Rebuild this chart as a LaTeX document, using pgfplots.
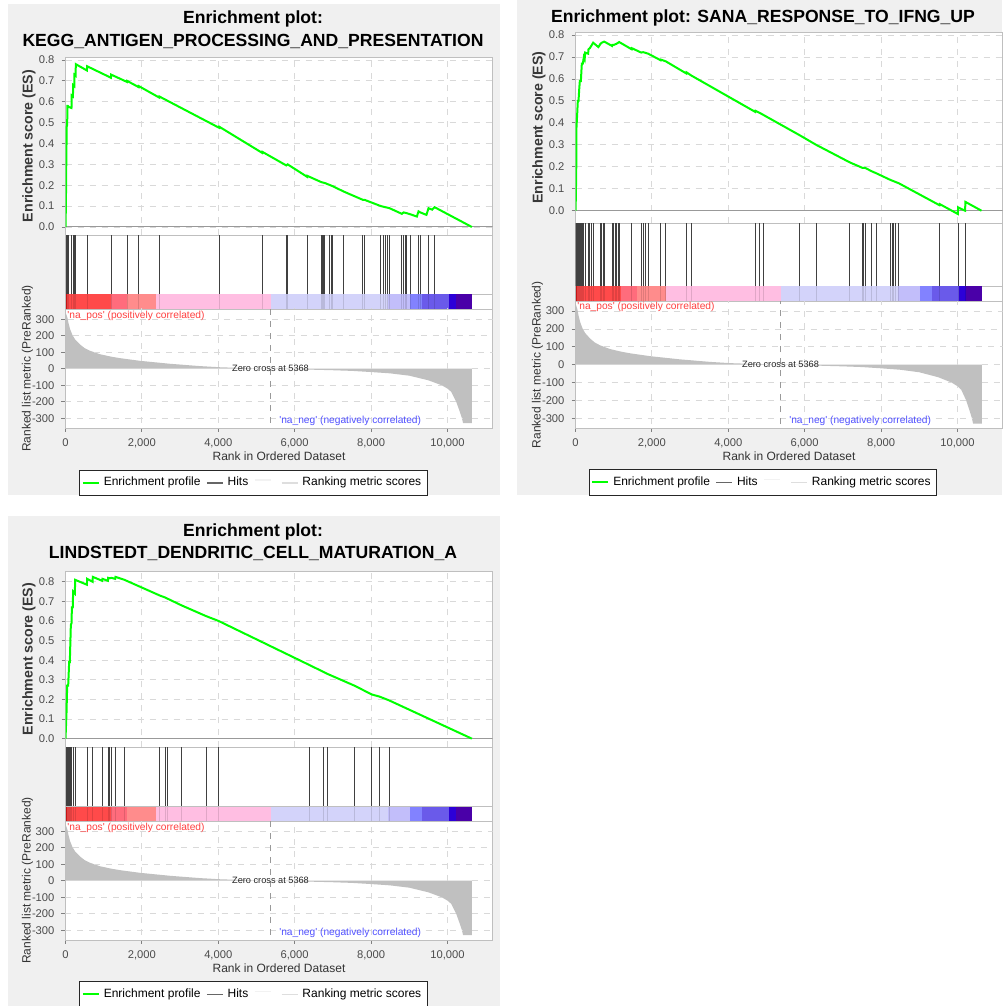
\documentclass[border=0pt]{standalone}
\usepackage{fontspec}
\setmainfont{Liberation Sans}
\newfontfamily\rawsans{Liberation Sans}
\usepackage{pgfplots}
\pgfplotsset{compat=1.18}
\usepackage{pgfplotstable}

\definecolor{esgreen}{HTML}{00FF00}
\definecolor{napos}{HTML}{FF4040}
\definecolor{naneg}{HTML}{5050FF}
\definecolor{cbA}{HTML}{B00000}
\definecolor{cbB}{HTML}{E01818}
\definecolor{cbC}{HTML}{FF4A4A}
\definecolor{cbD}{HTML}{FF6C7C}
\definecolor{cbE}{HTML}{FF8C8C}
\definecolor{cbF}{HTML}{FFBEE2}
\definecolor{cbG}{HTML}{D3D3FA}
\definecolor{cbH}{HTML}{C2BEFA}
\definecolor{cbI}{HTML}{8282FF}
\definecolor{cbJ}{HTML}{6A5AEA}
\definecolor{cbK}{HTML}{2C00D8}
\definecolor{cbL}{HTML}{4A00A8}
\definecolor{metgray}{HTML}{C0C0C0}

\newcommand\titlefont{\fontsize{8.8}{10}\selectfont\bfseries}
\newcommand\labfont{\fontsize{6}{7}\selectfont}

% ranked list metric (shared by the three plots)
\pgfplotstableread{
rank val
0 340
20 330
50 310
80 275
120 240
180 205
250 178
380 147
500 125
640 109
900 88
1200 73
1430 64
1950 48
2740 30
3520 16
4045 9
4700 4
5368 0
6000 -3
6500 -6
7000 -9
7500 -13
8000 -20
8500 -28
9000 -42
9500 -70
9850 -100
10000 -120
10100 -140
10230 -200
10300 -245
10380 -300
10410 -330
10640 -330
}\metric

\pgfplotstableread{
rank h
26 1
44 1
61 1
87 1
157 1
200 1
235 1
270 1
567 1
1195 1
1613 1
1918 1
2459 1
4029 1
5154 1
5781 1
5816 1
6331 1
6697 1
6723 1
6758 1
6784 1
6915 1
6958 1
7002 1
7281 1
7787 1
7831 1
8258 1
8328 1
8389 1
8441 1
8485 1
8807 1
8851 1
8894 1
8938 1
9043 1
9243 1
9287 1
9505 1
9662 1
}\hitsA

\pgfplotstableread{
rank h
9 1
26 1
44 1
61 1
79 1
96 1
113 1
140 1
166 1
192 1
218 1
253 1
340 1
375 1
428 1
462 1
654 1
689 1
724 1
750 1
969 1
1003 1
1038 1
1073 1
1117 1
1143 1
1475 1
1728 1
1771 1
1841 1
1902 1
2234 1
2365 1
2906 1
3037 1
4712 1
4826 1
4930 1
5855 1
6300 1
7181 1
7513 1
7548 1
7583 1
7749 1
7880 1
8246 1
8290 1
8333 1
8386 1
8464 1
9537 1
10017 1
10209 1
}\hitsB

\pgfplotstableread{
rank h
26 1
44 1
70 1
96 1
113 1
140 1
166 1
200 1
253 1
567 1
715 1
968 1
1116 1
1160 1
1203 1
1308 1
1543 1
2468 1
2607 1
2660 1
3035 1
3680 1
4011 1
6392 1
6758 1
6862 1
7569 1
8023 1
8215 1
8476 1
}\hitsC

\pgfplotstableread{
rank es
0 0
5 0.05
10 0.10
15 0.20
20 0.30
26 0.39
30 0.48
44 0.49
50 0.58
61 0.58
87 0.575
157 0.57
160 0.63
195 0.625
200 0.68
230 0.675
235 0.73
265 0.725
270 0.78
560 0.75
567 0.77
1190 0.715
1195 0.73
1610 0.695
1613 0.70
1915 0.67
1918 0.675
2455 0.62
2459 0.625
4025 0.475
4029 0.48
5150 0.355
5154 0.36
5780 0.295
5816 0.30
6330 0.24
6331 0.245
6697 0.215
6800 0.21
7002 0.195
7281 0.17
7787 0.13
7831 0.13
8258 0.10
8485 0.09
8807 0.063
8851 0.07
8938 0.066
9043 0.06
9200 0.05
9243 0.075
9287 0.07
9450 0.058
9505 0.09
9600 0.083
9662 0.095
10640 0.0
}\esA

\pgfplotstableread{
rank es
0 0
9 0.06
20 0.20
26 0.38
44 0.44
61 0.50
79 0.50
96 0.55
113 0.59
140 0.59
166 0.67
192 0.67
218 0.70
240 0.69
253 0.72
330 0.715
340 0.735
375 0.74
428 0.755
462 0.765
600 0.745
654 0.76
689 0.765
750 0.77
960 0.75
969 0.755
1003 0.755
1073 0.76
1143 0.768
1470 0.735
1475 0.74
1720 0.72
1771 0.722
1902 0.715
2230 0.685
2234 0.688
2365 0.68
2900 0.625
2906 0.63
3037 0.615
4705 0.45
4712 0.455
4826 0.445
4930 0.435
5855 0.345
6300 0.30
7181 0.22
7513 0.195
7583 0.195
7749 0.18
7880 0.17
8246 0.14
8464 0.125
9530 0.025
9537 0.03
10010 -0.015
10017 0.015
10200 0.0
10209 0.04
10630 0.0
}\esB

\pgfplotstableread{
rank es
0 0
26 0.13
44 0.27
70 0.27
96 0.39
113 0.39
140 0.58
160 0.59
166 0.67
190 0.67
200 0.75
245 0.74
253 0.81
560 0.785
567 0.815
710 0.80
715 0.825
960 0.805
968 0.815
1110 0.805
1116 0.82
1160 0.818
1203 0.82
1300 0.815
1308 0.825
1543 0.81
2468 0.73
2607 0.72
2660 0.715
3035 0.68
3680 0.625
4011 0.60
6392 0.375
6758 0.34
6862 0.33
7569 0.27
8023 0.225
8215 0.215
8476 0.195
10640 0.0
}\esC

\pgfplotsset{
  gbase/.style={
    scale only axis, width=213.5pt, xmin=0, xmax=11180,
    anchor=south west,
    axis line style={draw=black!25},
    axis background/.style={fill=white},
    tick align=outside, major tick length=2pt, tick pos=left,
    tick style={draw=black!50, line width=0.4pt},
    ticklabel style={font=\fontsize{5.6}{6}\selectfont, text=black!70},
    /pgf/number format/assume math mode=true,
    /pgf/number format/1000 sep={,},
    grid style={dashed, black!15, line width=0.4pt},
    scaled ticks=false,
  },
  esax/.style={gbase,
    xtick={0,2000,4000,6000,8000,10000}, xticklabels={}, xtick style={draw=none},
    ytick={0,0.1,0.2,0.3,0.4,0.5,0.6,0.7,0.8}, grid=major,
    yticklabel style={/pgf/number format/.cd, fixed, fixed zerofill, precision=1},
    ylabel={Enrichment score (ES)},
    every axis y label/.style={at={(axis description cs:-0.0855,0.5)}, rotate=90, anchor=center,
      font=\fontsize{7.1}{8}\selectfont\bfseries, text=black!78},
  },
  hitax/.style={gbase, ymin=0, ymax=1, xtick=\empty, ytick=\empty},
  metax/.style={gbase,
    xtick={0,2000,4000,6000,8000,10000},
    ytick={-300,-200,-100,0,100,200,300}, grid=none,
    xlabel={Rank in Ordered Dataset},
    ylabel={Ranked list metric (PreRanked)},
    every axis y label/.style={at={(axis description cs:-0.089,0.5)}, rotate=90, anchor=center,
      font=\labfont, text=black!80},
    every axis x label/.style={at={(axis description cs:0.5,0)}, anchor=center, yshift=-14.25pt,
      font=\labfont, text=black!80},
    legend columns=4,
    legend image code/.code={\draw[##1] (0pt,0pt) -- (8pt,0pt);},
    legend style={anchor=center, draw=black!85, line width=0.5pt, fill=white,
      font=\labfont, inner xsep=1pt, inner ysep=1.5pt,
      /tikz/every even column/.append style={column sep=0.8pt},
      /tikz/every odd column/.append style={column sep=0pt}},
  },
  mgrid/.style={dashed, black!15, line width=0.4pt},
}

\newcommand\cbseg[3]{\addplot[fill=#3, draw=none] coordinates {(#1,1) (#2,1)} \closedcycle;}
\newcommand\colorbarplots{%
  \cbseg{0}{20}{cbA}
  \cbseg{20}{50}{cbB}
  \cbseg{50}{1180}{cbC}
  \cbseg{1180}{1600}{cbD}
  \cbseg{1600}{2370}{cbE}
  \cbseg{2370}{5368}{cbF}
  \cbseg{5368}{8455}{cbG}
  \cbseg{8455}{9013}{cbH}
  \cbseg{9013}{9337}{cbI}
  \cbseg{9337}{10034}{cbJ}
  \cbseg{10034}{10235}{cbK}
  \cbseg{10235}{10645}{cbL}
}
\newcommand\metricplots{%
  \addlegendimage{esgreen, line width=1pt}\addlegendentry{Enrichment profile}
  \addlegendimage{black!60, line width=0.75pt}\addlegendentry{Hits}
  \addlegendimage{black!5, line width=0.75pt, yshift=1.5pt}\addlegendentry{}
  \addlegendimage{black!13, line width=0.75pt}\addlegendentry{Ranking metric scores}
  \addplot[fill=metgray, draw=none] table[x=rank,y=val]{\metric} \closedcycle;
  % grid segments drawn after the fill, only outside the filled area
  \addplot[mgrid] coordinates {(60,300) (11180,300)};
  \addplot[mgrid] coordinates {(195,200) (11180,200)};
  \addplot[mgrid] coordinates {(751,100) (11180,100)};
  \addplot[mgrid] coordinates {(10640,0) (11180,0)};
  \addplot[mgrid] coordinates {(0,-100) (9850,-100)};
  \addplot[mgrid] coordinates {(10640,-100) (11180,-100)};
  \addplot[mgrid] coordinates {(0,-200) (10230,-200)};
  \addplot[mgrid] coordinates {(10640,-200) (11180,-200)};
  \addplot[mgrid] coordinates {(0,-300) (10380,-300)};
  \addplot[mgrid] coordinates {(10640,-300) (11180,-300)};
  \addplot[mgrid] coordinates {(2000,47) (2000,400)};
  \addplot[mgrid] coordinates {(2000,-400) (2000,0)};
  \addplot[mgrid] coordinates {(4000,10) (4000,400)};
  \addplot[mgrid] coordinates {(4000,-400) (4000,0)};
  \addplot[mgrid] coordinates {(6000,0) (6000,400)};
  \addplot[mgrid] coordinates {(6000,-400) (6000,-3)};
  \addplot[mgrid] coordinates {(8000,0) (8000,400)};
  \addplot[mgrid] coordinates {(8000,-400) (8000,-20)};
  \addplot[mgrid] coordinates {(10000,0) (10000,400)};
  \addplot[mgrid] coordinates {(10000,-400) (10000,-120)};
  \addplot[black!40, dashed, line width=0.4pt] coordinates {(5368,-400) (5368,400)};
  \node[font=\fontsize{4.6}{5}\selectfont, text=black!85] at (axis cs:5368,0) {Zero cross at 5368};
  \node[anchor=west, inner sep=0pt, font=\fontsize{5.1}{6}\rawsans, text=napos] at (axis cs:40,322) {'na\_pos' (positively correlated)};
  \node[anchor=west, inner sep=0pt, font=\fontsize{5.1}{6}\rawsans, text=naneg] at (axis cs:5589,-316) {'na\_neg' (negatively correlated)};
}

\begin{document}
\begin{tikzpicture}
\path[use as bounding box] (0,0) rectangle (502pt,503pt);
\fill[black!6] (4pt,255.35pt) rectangle (249.85pt,501pt);
\fill[black!6] (258.5pt,255.35pt) rectangle (501pt,503pt);
\fill[black!6] (4pt,0pt) rectangle (249.85pt,245pt);

% ---------- Panel 1 ----------
\node[anchor=base, font=\titlefont] at (126.5pt,491.35pt) {Enrichment plot:};
\node[anchor=base, font=\titlefont] at (126.5pt,479.85pt) {KEGG\_ANTIGEN\_PROCESSING\_AND\_PRESENTATION};
\begin{axis}[esax, at={(32.75pt,385.5pt)}, height=89pt, ymin=-0.0383, ymax=0.8144]
\addplot[black!40, line width=0.5pt] coordinates {(0,0) (11180,0)};
\addplot[esgreen, line width=1pt] table[x=rank,y=es]{\esA};
\end{axis}
\begin{axis}[hitax, at={(32.75pt,356pt)}, height=29.5pt]
\addplot[ycomb, no markers, black!75, line width=0.45pt] table[x=rank,y=h]{\hitsA};
\end{axis}
\begin{axis}[hitax, at={(32.75pt,348.5pt)}, height=7.5pt]
\colorbarplots
\addplot[ycomb, no markers, black, opacity=0.12, line width=0.45pt] table[x=rank,y=h]{\hitsA};
\end{axis}
\begin{axis}[metax, at={(32.75pt,289pt)}, height=59.5pt, ymin=-359, ymax=362,
  legend style={at={(axis description cs:0.4403,-0.462)}}]
\metricplots
\end{axis}

% ---------- Panel 2 ----------
\node[anchor=base, font=\titlefont] at (381.5pt,491.85pt) {Enrichment plot: SANA\_RESPONSE\_TO\_IFNG\_UP};
\begin{axis}[esax, at={(287.75pt,391.5pt)}, height=95.5pt, ymin=-0.056, ymax=0.8137]
\addplot[black!40, line width=0.5pt] coordinates {(0,0) (11180,0)};
\addplot[esgreen, line width=1pt] table[x=rank,y=es]{\esB};
\end{axis}
\begin{axis}[hitax, at={(287.75pt,360pt)}, height=31.5pt]
\addplot[ycomb, no markers, black!75, line width=0.45pt] table[x=rank,y=h]{\hitsB};
\end{axis}
\begin{axis}[hitax, at={(287.75pt,352.25pt)}, height=7.75pt]
\colorbarplots
\addplot[ycomb, no markers, black, opacity=0.12, line width=0.45pt] table[x=rank,y=h]{\hitsB};
\end{axis}
\begin{axis}[metax, at={(287.75pt,289pt)}, height=63.25pt, ymin=-354, ymax=354,
  legend style={at={(axis description cs:0.439,-0.43)}}]
\metricplots
\end{axis}

% ---------- Panel 3 ----------
\node[anchor=base, font=\titlefont] at (126.5pt,234.85pt) {Enrichment plot:};
\node[anchor=base, font=\titlefont] at (126.5pt,223.5pt) {LINDSTEDT\_DENDRITIC\_CELL\_MATURATION\_A};
\begin{axis}[esax, at={(32.75pt,129.35pt)}, height=88.15pt, ymin=-0.044, ymax=0.855]
\addplot[black!40, line width=0.5pt] coordinates {(0,0) (11180,0)};
\addplot[esgreen, line width=1pt] table[x=rank,y=es]{\esC};
\end{axis}
\begin{axis}[hitax, at={(32.75pt,99.65pt)}, height=29.7pt]
\addplot[ycomb, no markers, black!75, line width=0.45pt] table[x=rank,y=h]{\hitsC};
\end{axis}
\begin{axis}[hitax, at={(32.75pt,92.5pt)}, height=7.15pt]
\colorbarplots
\addplot[ycomb, no markers, black, opacity=0.12, line width=0.45pt] table[x=rank,y=h]{\hitsC};
\end{axis}
\begin{axis}[metax, at={(32.75pt,33pt)}, height=59.5pt, ymin=-359, ymax=362,
  legend style={at={(axis description cs:0.4403,-0.458)}}]
\metricplots
\end{axis}
\end{tikzpicture}
\end{document}
